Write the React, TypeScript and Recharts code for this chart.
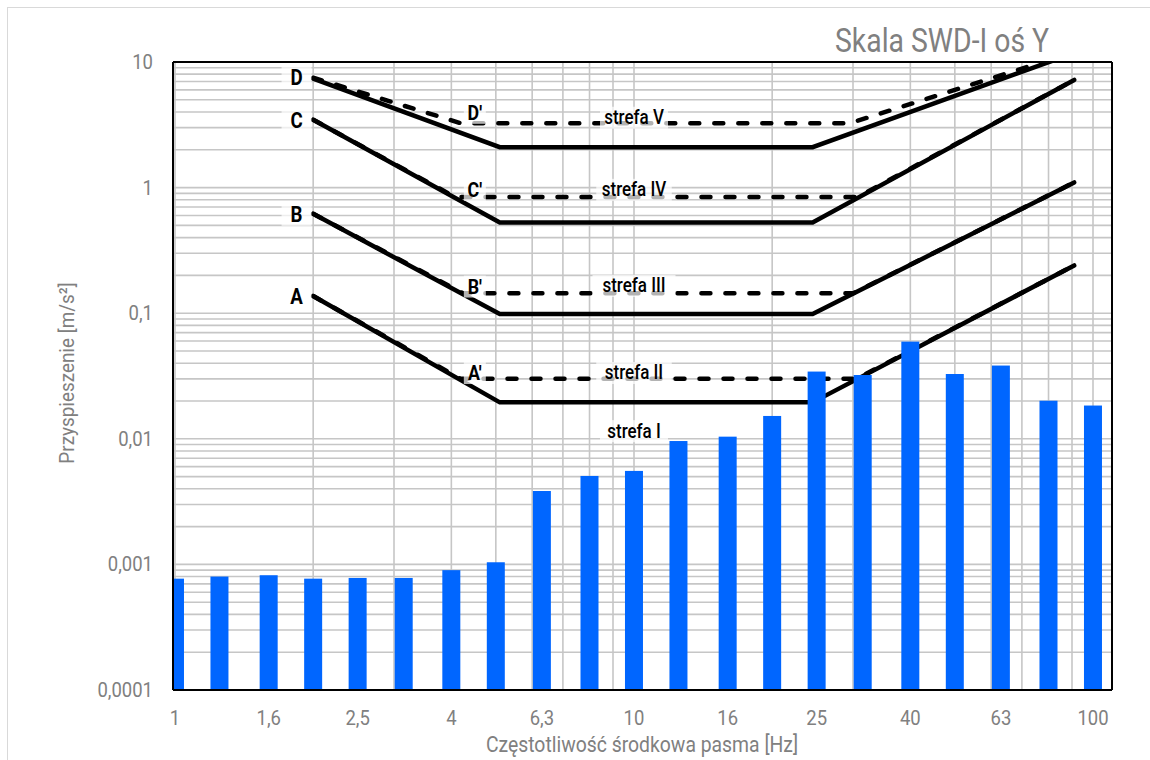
import React from "react"
import { ComposedChart, Bar, Line, XAxis, YAxis, CartesianGrid, ReferenceLine, ReferenceDot } from "recharts"

// third-octave band centre frequencies [Hz] and measured acceleration [m/s2]
const bandFreqs = [1, 1.25, 1.6, 2, 2.5, 3.15, 4, 5, 6.3, 8, 10, 12.5, 16, 20, 25, 31.5, 40, 50, 63, 80, 100]
const bandAccel = [
    0.00077, 0.0008, 0.00082, 0.00077, 0.00078, 0.00078, 0.0009, 0.00104, 0.00384, 0.00506, 0.00555,
    0.0096, 0.0104, 0.0152, 0.0343, 0.0322, 0.0594, 0.0328, 0.0383, 0.0201, 0.0184,
]

// limit lines (solid) and zone lines (dashed)
const lineA = [{ f: 2, a: 0.137 }, { f: 5.1, a: 0.0195 }, { f: 24.5, a: 0.0195 }, { f: 91, a: 0.24 }]
const lineB = [{ f: 2, a: 0.618 }, { f: 5.1, a: 0.0985 }, { f: 24.5, a: 0.0985 }, { f: 91, a: 1.1 }]
const lineC = [{ f: 2, a: 3.47 }, { f: 5.1, a: 0.528 }, { f: 24.5, a: 0.528 }, { f: 91, a: 7.2 }]
const lineD = [{ f: 2, a: 7.36 }, { f: 5.1, a: 2.1 }, { f: 24.5, a: 2.1 }, { f: 91, a: 11.8 }]
const lineA2 = [{ f: 2, a: 0.137 }, { f: 4.19, a: 0.03 }, { f: 30.5, a: 0.03 }, { f: 91, a: 0.24 }]
const lineB2 = [{ f: 2, a: 0.618 }, { f: 4.24, a: 0.144 }, { f: 30, a: 0.144 }, { f: 91, a: 1.1 }]
const lineC2 = [{ f: 2, a: 3.47 }, { f: 4.08, a: 0.84 }, { f: 30.7, a: 0.84 }, { f: 91, a: 7.2 }]
const lineD2 = [{ f: 2, a: 7.5 }, { f: 4.2, a: 3.25 }, { f: 29.5, a: 3.25 }, { f: 91, a: 12 }]

const xTicks = [1, 1.6, 2.5, 4, 6.3, 10, 16, 25, 40, 63, 100]
const xTickLabels = ["1", "1,6", "2,5", "4", "6,3", "10", "16", "25", "40", "63", "100"]
const xGrid = [1, 2, 3, 4, 5, 6, 7, 8, 9, 10, 20, 30, 40, 50, 60, 70, 80, 90, 100]

const yDecades = [0.0001, 0.001, 0.01, 0.1, 1, 10]
const yTickLabels = ["0,0001", "0,001", "0,01", "0,1", "1", "10"]
const yGrid = [
    0.0001, 0.0002, 0.0003, 0.0004, 0.0005, 0.0006, 0.0007, 0.0008, 0.0009,
    0.001, 0.002, 0.003, 0.004, 0.005, 0.006, 0.007, 0.008, 0.009,
    0.01, 0.02, 0.03, 0.04, 0.05, 0.06, 0.07, 0.08, 0.09,
    0.1, 0.2, 0.3, 0.4, 0.5, 0.6, 0.7, 0.8, 0.9,
    1, 2, 3, 4, 5, 6, 7, 8, 9, 10,
]

const letterLabels = [
    { text: "D", f: 1.84, a: 7.5 },
    { text: "C", f: 1.84, a: 3.41 },
    { text: "B", f: 1.84, a: 0.607 },
    { text: "A", f: 1.84, a: 0.135 },
]
const primeLabels = [
    { text: "D'", f: 4.5, a: 3.94 },
    { text: "C'", f: 4.5, a: 0.96 },
    { text: "B'", f: 4.5, a: 0.163 },
    { text: "A'", f: 4.5, a: 0.0334 },
]
const zoneLabels = [
    { text: "strefa V", f: 10, a: 3.6 },
    { text: "strefa IV", f: 10, a: 0.96 },
    { text: "strefa III", f: 10, a: 0.165 },
    { text: "strefa II", f: 10, a: 0.0334 },
    { text: "strefa I", f: 10, a: 0.0115 },
]

const bars = bandFreqs.map((f, i) => ({ f, a: bandAccel[i] }))

const FONT = "Roboto, 'Open Sans', sans-serif"
const GRAY = "#808080"
const BAR_W = 18

function XTick(props: any) {
    const { x, y, payload } = props
    const i = xTicks.indexOf(payload.value)
    return (
        <text transform={`translate(${x},${y + 28}) scale(0.88,1)`} textAnchor="middle" dominantBaseline="central"
            fontSize={21} fill={GRAY} fontFamily={FONT}>
            {i >= 0 ? xTickLabels[i] : ""}
        </text>
    )
}

function YTick(props: any) {
    const { x, y, payload } = props
    const i = yDecades.indexOf(payload.value)
    if (i < 0) return <g />
    return (
        <text transform={`translate(${x},${y}) scale(0.88,1)`} textAnchor="end" dominantBaseline="central"
            fontSize={21} fill={GRAY} fontFamily={FONT}>
            {yTickLabels[i]}
        </text>
    )
}

// the band size on a log number axis comes out tiny, so widen the bar around its centre
function BandBar(props: any) {
    const { x, y, width, height, fill } = props
    if (height == null || isNaN(height)) return <g />
    const cx = x + width / 2
    return <rect x={cx - BAR_W / 2} y={y} width={BAR_W} height={height} fill={fill} />
}

function chartLabel(p: any, text: string, size: number, weight: number, boxW: number) {
    const { cx, cy } = p
    return (
        <g>
            <rect x={cx - boxW / 2} y={cy - 11} width={boxW} height={22} fill="#fff" fillOpacity={0.7} />
            <text transform={`translate(${cx},${cy}) scale(0.85,1)`} textAnchor="middle" dominantBaseline="central"
                fontSize={size} fontWeight={weight} fill="#000" fontFamily={FONT}>
                {text}
            </text>
        </g>
    )
}

const solid = { stroke: "#000", strokeWidth: 4.5, strokeLinecap: "round" as const }
const dashed = { stroke: "#000", strokeWidth: 4.5, strokeLinecap: "round" as const, strokeDasharray: "9 15" }

export default function App() {
    return (
        <div style={{ position: "absolute", left: 0, top: 0, width: 1150, height: 760, background: "#fff" }}>
            <div style={{ position: "absolute", left: 0, top: 0 }}>
                <ComposedChart width={1150} height={760} data={bars} margin={{ top: 62, right: 38, bottom: 30, left: 113 }}>
                    <CartesianGrid stroke="#c6c6c6" strokeWidth={1.6} verticalValues={xGrid} />
                    <XAxis type="number" dataKey="f" scale="log" domain={[0.99, 110]} allowDataOverflow ticks={xTicks}
                        interval={0} tick={(p: any) => <XTick {...p} />} tickLine={false} tickSize={0} tickMargin={0}
                        axisLine={{ stroke: "#000", strokeWidth: 2 }} height={40} />
                    <YAxis type="number" scale="log" domain={[0.0001, 10]} allowDataOverflow ticks={yGrid} interval={0}
                        tick={(p: any) => <YTick {...p} />} tickLine={false} tickSize={0} tickMargin={20}
                        axisLine={{ stroke: "#000", strokeWidth: 2 }} width={60} />

                    <Line data={lineA} dataKey="a" type="linear" dot={false} {...solid} isAnimationActive={false} />
                    <Line data={lineB} dataKey="a" type="linear" dot={false} {...solid} isAnimationActive={false} />
                    <Line data={lineC} dataKey="a" type="linear" dot={false} {...solid} isAnimationActive={false} />
                    <Line data={lineD} dataKey="a" type="linear" dot={false} {...solid} isAnimationActive={false} />
                    <Line data={lineA2} dataKey="a" type="linear" dot={false} {...dashed} isAnimationActive={false} />
                    <Line data={lineB2} dataKey="a" type="linear" dot={false} {...dashed} isAnimationActive={false} />
                    <Line data={lineC2} dataKey="a" type="linear" dot={false} {...dashed} isAnimationActive={false} />
                    <Line data={lineD2} dataKey="a" type="linear" dot={false} {...dashed} isAnimationActive={false} />

                    <Bar dataKey="a" fill="#0066ff" barSize={BAR_W} shape={(p: any) => <BandBar {...p} />}
                        isAnimationActive={false} {...({ zIndex: 450 } as any)} />

                    <ReferenceLine y={10} stroke="#000" strokeWidth={2} />
                    <ReferenceLine x={110} stroke="#000" strokeWidth={2} />

                    {letterLabels.map((l) => (
                        <ReferenceDot key={l.text} x={l.f} y={l.a} r={0} {...({ zIndex: 2000 } as any)}
                            shape={(p: any) => chartLabel(p, l.text, 22, 700, 30)} />
                    ))}
                    {primeLabels.map((l) => (
                        <ReferenceDot key={l.text} x={l.f} y={l.a} r={0} {...({ zIndex: 2000 } as any)}
                            shape={(p: any) => chartLabel(p, l.text, 21, 700, 22)} />
                    ))}
                    {zoneLabels.map((l) => (
                        <ReferenceDot key={l.text} x={l.f} y={l.a} r={0} {...({ zIndex: 2000 } as any)}
                            shape={(p: any) => chartLabel(p, l.text, 20, 500, l.text.length * 7.5 + 8)} />
                    ))}
                </ComposedChart>
            </div>
            <svg width={1150} height={760} style={{ position: "absolute", left: 0, top: 0, pointerEvents: "none" }}>
                <rect x={7.5} y={7.5} width={1300} height={900} fill="none" stroke="#d9d9d9" />
                <text transform="translate(835,52) scale(0.86,1)" fontSize={33} fill={GRAY} fontFamily={FONT}>
                    Skala SWD-I oś Y
                </text>
                <text transform="translate(74,373) rotate(-90) scale(0.9,1)" textAnchor="middle" fontSize={21}
                    fill={GRAY} fontFamily={FONT}>
                    Przyspieszenie [m/s²]
                </text>
                <text transform="translate(642,752) scale(0.88,1)" textAnchor="middle" fontSize={22} fill={GRAY}
                    fontFamily={FONT}>
                    Częstotliwość środkowa pasma [Hz]
                </text>
            </svg>
        </div>
    )
}
